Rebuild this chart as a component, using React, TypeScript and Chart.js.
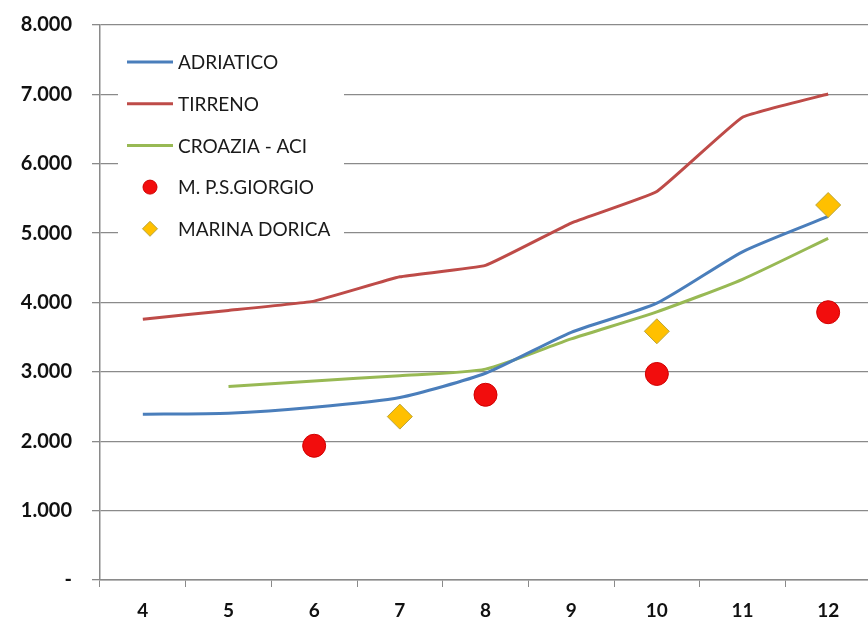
import { useEffect, useRef } from "react";
import { Chart, registerables } from "chart.js";

Chart.register(...registerables);

// Months on the x axis
const months = ["4", "5", "6", "7", "8", "9", "10", "11", "12"];

// Line series
const adriatico = [2390, 2405, 2490, 2630, 2980, 3570, 3990, 4730, 5240];
const tirreno = [3760, 3885, 4020, 4370, 4535, 5145, 5600, 6670, 7005];
const croaziaAci = [null, 2790, 2870, 2945, 3040, 3475, 3865, 4335, 4925];

// Single-marina observations
const mpsGiorgio = [null, null, 1935, null, 2670, null, 2970, null, 3860];
const marinaDorica = [null, null, null, 2355, null, null, 3585, null, 5405];

// Y tick values
const yTicks = [0, 1000, 2000, 3000, 4000, 5000, 6000, 7000, 8000];

const FONT = "Lato, 'Open Sans', sans-serif";
const GRID = "#8a8a8a";

const formatThousands = (v: number) =>
  v === 0 ? "-" : v.toLocaleString("de-DE", { maximumFractionDigits: 0 });

// Legend drawn inside the plot area, on a white panel covering the grid
const insetLegend = {
  id: "insetLegend",
  afterDraw(chart: any) {
    const { ctx, chartArea } = chart;
    const left = chartArea.left + 18;
    const top = chartArea.top + 15;
    ctx.save();
    ctx.fillStyle = "#ffffff";
    ctx.fillRect(left, top, 226, 210);
    ctx.font = `19px ${FONT}`;
    ctx.textBaseline = "middle";
    ctx.textAlign = "left";
    chart.data.datasets.forEach((ds: any, i: number) => {
      const y = top + 22 + i * 41.7;
      if (ds.showLine === false) {
        const cx = left + 32;
        ctx.fillStyle = ds.backgroundColor;
        ctx.strokeStyle = ds.borderColor;
        ctx.lineWidth = 1;
        ctx.beginPath();
        if (ds.pointStyle === "rectRot") {
          const r = 7.5;
          ctx.moveTo(cx - r, y);
          ctx.lineTo(cx, y - r);
          ctx.lineTo(cx + r, y);
          ctx.lineTo(cx, y + r);
          ctx.closePath();
        } else {
          ctx.arc(cx, y, 7, 0, Math.PI * 2);
        }
        ctx.fill();
        ctx.stroke();
      } else {
        ctx.strokeStyle = ds.borderColor;
        ctx.lineWidth = 3;
        ctx.beginPath();
        ctx.moveTo(left + 9, y);
        ctx.lineTo(left + 55, y);
        ctx.stroke();
      }
      ctx.fillStyle = "#1a1a1a";
      ctx.fillText(ds.label, left + 60, y + 1);
    });
    ctx.restore();
  },
};

export default function App() {
  const canvasRef = useRef<HTMLCanvasElement | null>(null);

  useEffect(() => {
    if (!canvasRef.current) return;
    const lineDs = (label: string, data: (number | null)[], color: string, tension: number) => ({
      type: "line" as const,
      label,
      data,
      borderColor: color,
      backgroundColor: color,
      borderWidth: 3,
      pointRadius: 0,
      pointHoverRadius: 0,
      tension,
      fill: false,
      order: 1,
    });
    const chart = new Chart(canvasRef.current, {
      type: "line",
      data: {
        labels: months,
        datasets: [
          lineDs("ADRIATICO", adriatico, "#4a7ebb", 0.2),
          lineDs("TIRRENO", tirreno, "#be4b48", 0.1),
          lineDs("CROAZIA - ACI", croaziaAci, "#98b954", 0.2),
          {
            label: "M. P.S.GIORGIO",
            data: mpsGiorgio,
            showLine: false,
            pointStyle: "circle",
            pointRadius: 11.5,
            backgroundColor: "#f20d0d",
            borderColor: "#d00000",
            borderWidth: 1,
            order: 0,
          },
          {
            label: "MARINA DORICA",
            data: marinaDorica,
            showLine: false,
            pointStyle: "rectRot",
            pointRadius: 12.5,
            backgroundColor: "#ffc000",
            borderColor: "#b9a43a",
            borderWidth: 1,
            order: 0,
          },
        ],
      },
      options: {
        responsive: false,
        animation: false,
        events: [],
        layout: { autoPadding: false, padding: { top: 25, right: 1, left: 0, bottom: 0 } },
        plugins: {
          legend: { display: false },
          tooltip: { enabled: false },
        },
        scales: {
          x: {
            offset: true,
            grid: {
              offset: true,
              drawOnChartArea: false,
              tickLength: 7,
              color: GRID,
              lineWidth: 1,
            },
            border: { color: GRID, width: 1.5 },
            ticks: {
              color: "#111",
              font: { family: FONT, size: 19, weight: "bold" },
              padding: 12,
              maxRotation: 0,
            },
            afterFit: (scale: any) => {
              scale.height = 37;
              scale.paddingLeft = 0;
              scale.paddingRight = 0;
            },
          },
          y: {
            min: 0,
            max: 8000,
            afterBuildTicks: (scale: any) => {
              scale.ticks = yTicks.map((v) => ({ value: v }));
            },
            grid: { color: GRID, lineWidth: 1.3, tickLength: 8 },
            border: { color: GRID, width: 1.5 },
            ticks: {
              color: "#111",
              font: { family: FONT, size: 20, weight: "bold" },
              padding: 20,
              callback: (v: any) => formatThousands(Number(v)),
            },
            afterFit: (scale: any) => {
              scale.width = 100;
              scale.paddingTop = 0;
              scale.paddingBottom = 0;
            },
          },
        },
      },
      plugins: [insetLegend],
    });
    return () => chart.destroy();
  }, []);

  return (
    <div
      style={{
        position: "fixed",
        left: 0,
        top: 0,
        width: 868,
        height: 617,
        overflow: "hidden",
        background: "#fff",
      }}
    >
      <canvas ref={canvasRef} width={872} height={617} style={{ display: "block" }} />
    </div>
  );
}
